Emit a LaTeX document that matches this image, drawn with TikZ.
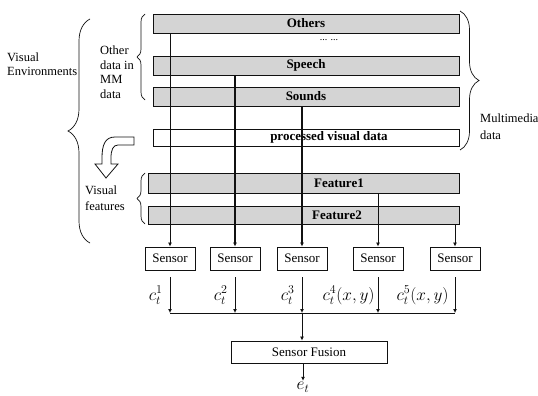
\documentclass[tikz,border=0pt]{standalone}
\usepackage{fontspec}
\setmainfont{Liberation Serif}
\usepackage{tikz}
\usetikzlibrary{positioning, arrows.meta, calc, decorations.pathreplacing}
\definecolor{barGray}{HTML}{d4d4d4}
\definecolor{inkK}{HTML}{111111}

\begin{document}
\begin{tikzpicture}[x=1pt, y=-1pt, draw=inkK, bar/.style={draw, line width=0.9pt, minimum height=19pt, inner sep=0pt, font=\fontsize{13}{13}\selectfont\bfseries},sens/.style={draw, line width=0.9pt, minimum width=50pt, minimum height=23pt, inner sep=0pt, font=\fontsize{13}{13}\selectfont},lbl/.style={align=left, inner sep=0pt, font=\fontsize{12.5}{14.5}\selectfont},blbl/.style={inner sep=0pt, font=\fontsize{13}{13}\selectfont\bfseries},clbl/.style={inner sep=1pt, font=\fontsize{17}{17}\selectfont},feed/.style={line width=0.8pt, -{Latex[length=4pt,width=4pt]}},brc/.style={decorate, decoration={brace, amplitude=#1}, line width=0.7pt}]
\useasboundingbox (0,0) rectangle (538,396);
% multimedia data bars
\node[bar, fill=barGray, minimum width=306pt] (others) at (306,23.5) {Others};
\node[inner sep=0pt, font=\fontsize{10}{10}\selectfont] (dots) at (329,40) {... ...};
\node[bar, fill=barGray, minimum width=306pt] (speech) at (306,65.5) {Speech};
\node[bar, fill=barGray, minimum width=306pt] (sounds) at (306,96.5) {Sounds};
\node[bar, fill=white, minimum width=306pt, minimum height=17pt] (proc) at (306,137.5) {};
\node[blbl] (proclbl) at (329,137.5) {processed visual data};
% visual features
\node[bar, fill=barGray, minimum width=311pt, minimum height=20pt] (feat1) at (303.5,183) {};
\node[blbl] (feat1lbl) at (339,183) {Feature1};
\node[bar, fill=barGray, minimum width=311pt, minimum height=18pt] (feat2) at (303.5,215) {};
\node[blbl] (feat2lbl) at (337,215) {Feature2};
% sensors
\node[sens] (s1) at (170,258.5) {Sensor};
\node[sens] (s2) at (235,258.5) {Sensor};
\node[sens] (s3) at (302,258.5) {Sensor};
\node[sens] (s4) at (378,258.5) {Sensor};
\node[sens] (s5) at (455,258.5) {Sensor};
\draw[feed] (others.south -| s1.north) -- (s1.north);
\draw[feed, line width=1.6pt] (speech.south -| s2.north) -- (s2.north);
\draw[feed, line width=1.2pt] (sounds.south -| s3.north) -- (s3.north);
\draw[feed] (feat1.south -| s4.north) -- (s4.north);
\draw[feed] (feat2.south -| s5.north) -- (s5.north);
% fusion
\coordinate (bus) at (0,313);
\node[sens, minimum width=156pt, minimum height=22pt] (fusion) at (309,352) {Sensor Fusion};
\draw[feed] ([yshift=-7pt]s1.south) -- (s1.south |- bus) node[midway, left=6pt, clbl] {$c_t^1$};
\draw[feed] ([yshift=-7pt]s2.south) -- (s2.south |- bus) node[midway, left=6pt, clbl] {$c_t^2$};
\draw[feed] ([yshift=-7pt]s3.south) -- (s3.south |- bus) node[midway, left=6pt, clbl] {$c_t^3$};
\draw[feed] ([yshift=-7pt]s4.south) -- (s4.south |- bus) node[midway, left=2pt, clbl] {$c_t^4(x,y)$};
\draw[feed] ([yshift=-7pt]s5.south) -- (s5.south |- bus) node[midway, left=5pt, clbl] {$c_t^5(x,y)$};
\draw[line width=0.8pt] (s1.south |- bus) -- (s5.south |- bus);
\draw[feed] (s3.south |- bus) -- (s3.south |- fusion.north);
\node[clbl] (et) at (303,387) {$e_t$};
\draw[feed] (fusion.south -| et) -- (et.north);
% braces and side labels
\draw[brc=22pt] (90,243) -- (90,19);
\draw[brc=8pt] (145,100) -- (145,14);
\draw[brc=8pt] (145,224) -- (145,173);
\draw[brc=19pt] (460,11) -- (460,150);
\node[lbl, anchor=west] (visenv) at (7,64) {Visual\\Environments};
\node[lbl, anchor=west] (otherdata) at (100,72) {Other\\data in\\MM\\data};
\node[lbl, anchor=west, font=\fontsize{12.5}{16}\selectfont] (visfeat) at (85,198) {Visual\\features};
\node[lbl, anchor=west, font=\fontsize{12.5}{17}\selectfont] (mmdata) at (480,127) {Multimedia\\data};
% hollow arrow from processed data to features
\draw[line width=0.8pt, fill=white] (134,137) -- (115,137) .. controls (105,137) and (102,145) .. (102,158) -- (102,164) -- (95,164) -- (106,178) -- (118,164) -- (111,164) -- (111,158) .. controls (111,150) and (113,145) .. (118,145) -- (134,145) -- cycle;
\end{tikzpicture}
\end{document}
